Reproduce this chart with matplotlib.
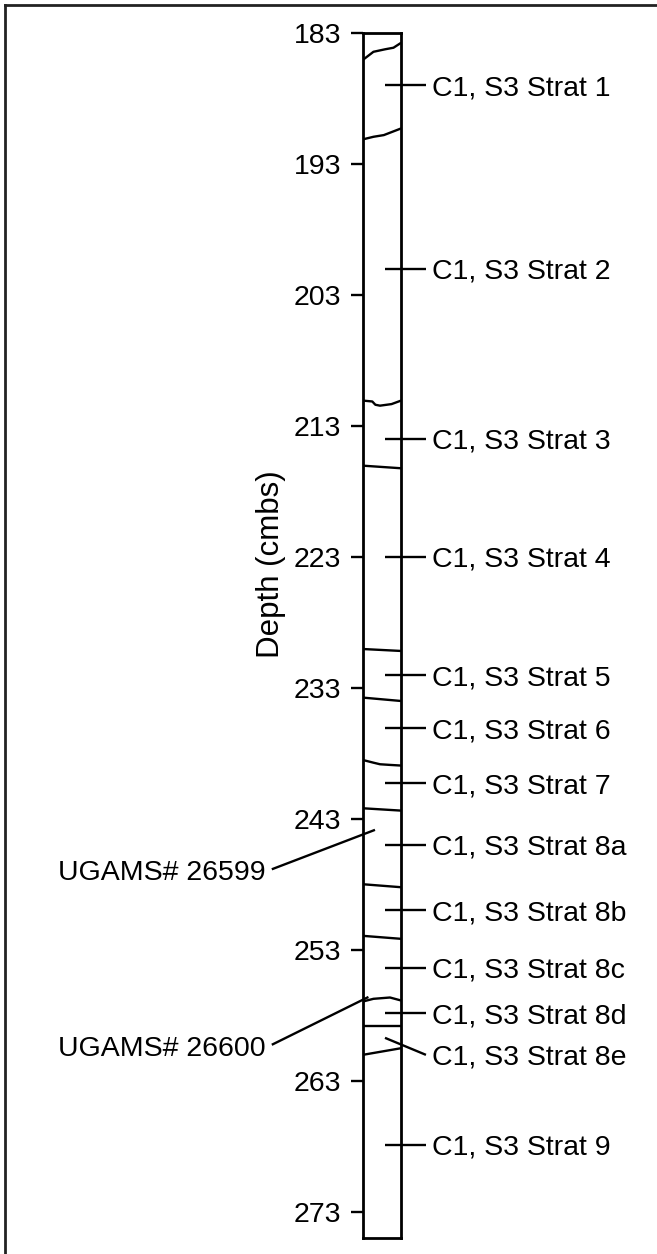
import matplotlib
matplotlib.use("Agg")
import matplotlib.pyplot as plt
from matplotlib.lines import Line2D

plt.rcParams['font.family'] = ['Liberation Sans', 'DejaVu Sans']

# ---- data ----
depth_top = 183
depth_bottom = 275
tick_depths = [183, 193, 203, 213, 223, 233, 243, 253, 263, 273]
tick_labels = [str(t) for t in tick_depths]

strat_labels = ["C1, S3 Strat 1", "C1, S3 Strat 2", "C1, S3 Strat 3", "C1, S3 Strat 4",
                "C1, S3 Strat 5", "C1, S3 Strat 6", "C1, S3 Strat 7", "C1, S3 Strat 8a",
                "C1, S3 Strat 8b", "C1, S3 Strat 8c", "C1, S3 Strat 8d", "C1, S3 Strat 8e",
                "C1, S3 Strat 9"]
strat_depths = [187.0, 201.0, 214.0, 223.0, 232.05, 236.1, 240.3, 245.0, 250.0,
                254.4, 257.85, 261.04, 267.9]
strat_inner_depths = [187.0, 201.0, 214.0, 223.0, 232.05, 236.1, 240.3, 245.0, 250.0,
                      254.4, 257.85, 259.74, 267.9]

# layer boundaries: (relative x across column, depth)
boundary_x = [
    [0, 0.28, 0.58, 0.80, 1.0],
    [0, 0.28, 0.55, 1.0],
    [0, 0.25, 0.33, 0.45, 0.75, 1.0],
    [0, 1.0],
    [0, 1.0],
    [0, 1.0],
    [0, 0.28, 0.45, 0.71, 1.0],
    [0, 1.0],
    [0, 1.0],
    [0, 1.0],
    [0, 0.28, 0.71, 1.0],
    [0, 1.0],
    [0, 1.0],
]
boundary_d = [
    [185.08, 184.45, 184.26, 184.14, 183.76],
    [191.14, 190.94, 190.81, 190.30],
    [211.08, 211.15, 211.40, 211.47, 211.35, 211.08],
    [216.05, 216.25],
    [230.05, 230.20],
    [233.76, 234.02],
    [238.52, 238.73, 238.85, 238.90, 238.95],
    [242.21, 242.39],
    [248.01, 248.24],
    [251.95, 252.18],
    [256.97, 256.76, 256.66, 256.89],
    [258.85, 258.85],
    [261.04, 260.53],
]

sample_labels = ["UGAMS# 26599", "UGAMS# 26600"]
sample_label_depths = [246.9, 260.4]
sample_lead_depths = [246.87, 260.27]
sample_point_depths = [243.86, 256.62]
sample_point_x = [0.32, 0.15]

# ---- figure ----
fig = plt.figure(figsize=(6.57, 12.54), dpi=100)
ax = fig.add_axes([0.5520, 0.01300, 0.0586, 0.96084])
ax.set_xlim(0, 1)
ax.set_ylim(depth_bottom, depth_top)
for s in ax.spines.values():
    s.set_linewidth(2.0)
    s.set_color('black')
ax.set_xticks([])
ax.set_yticks(tick_depths)
ax.set_yticklabels(tick_labels)
ax.tick_params(axis='y', direction='out', length=9.0, width=1.7, pad=6.5,
               labelsize=20.5, colors='black')

fs = 20.5
lw = 1.7

for bx, bd in zip(boundary_x, boundary_d):
    ax.plot(bx, bd, color='black', lw=lw, solid_capstyle='butt')

x_in, x_out, x_lab = 0.58, 1.644, 1.80
for lab, d, di in zip(strat_labels, strat_depths, strat_inner_depths):
    ax.plot([x_in, x_out], [di, d], color='black', lw=lw, clip_on=False,
            solid_capstyle='butt')
    ax.text(x_lab, d, lab, fontsize=fs, ha='left', va='center_baseline', clip_on=False)

x_lead, x_slab = -2.36, -2.51
for lab, dl, dld, dp, xp in zip(sample_labels, sample_label_depths, sample_lead_depths,
                                sample_point_depths, sample_point_x):
    ax.plot([x_lead, xp], [dld, dp], color='black', lw=lw, clip_on=False,
            solid_capstyle='butt')
    ax.text(x_slab, dl, lab, fontsize=fs, ha='right', va='center_baseline', clip_on=False)

ax.text(-2.38, 223.6, "Depth (cmbs)", fontsize=22.5, rotation=90, ha='center',
        va='center', clip_on=False)

# outer frame (top and left)
fig.add_artist(Line2D([0.0076, 1.0], [1 - 5 / 1254, 1 - 5 / 1254], color='#222222', lw=2.0,
                      transform=fig.transFigure))
fig.add_artist(Line2D([0.0076, 0.0076], [0.0, 1 - 5 / 1254], color='#222222', lw=2.0,
                      transform=fig.transFigure))

fig.savefig("out.png", dpi=100)
